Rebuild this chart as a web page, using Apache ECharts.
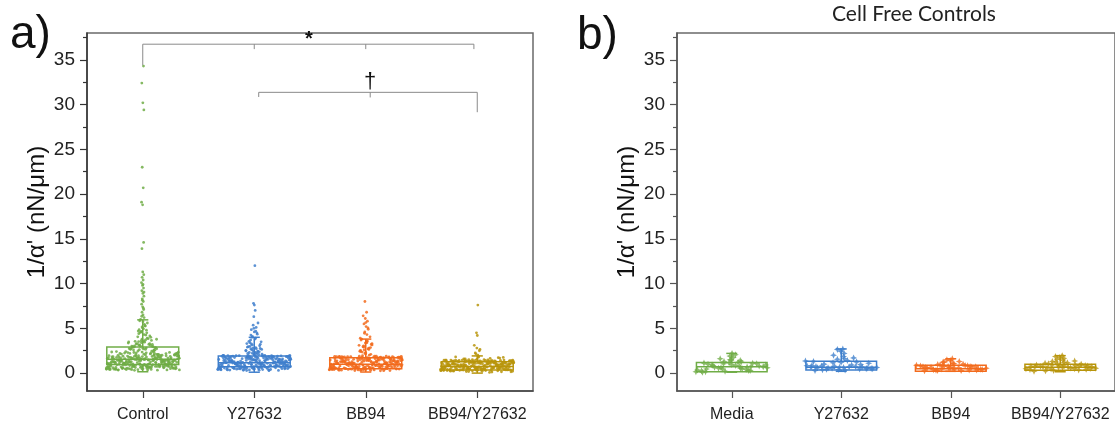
<!DOCTYPE html>
<html><head><meta charset="utf-8">
<script src="https://cdn.jsdelivr.net/npm/echarts@6/dist/echarts.min.js"></script>
<style>html,body{margin:0;padding:0;background:#fff}#c{width:1115px;height:426px}</style>
</head><body><div id="c"></div>
<script>
// ---------- DATA ----------
const catsA = ['Control', 'Y27632', 'BB94', 'BB94/Y27632'];
const catsB = ['Media', 'Y27632', 'BB94', 'BB94/Y27632'];
const yTickLabels = [0, 5, 10, 15, 20, 25, 30, 35];
const yMinorTicks = [2.5, 7.5, 12.5, 17.5, 22.5, 27.5, 32.5, 37.5];
const panelTitleB = 'Cell Free Controls';
const yName = "1/\u03b1' (nN/\u03bcm)";

// box stats: [lower whisker, Q1, median, Q3, upper whisker]
const boxControl = [0.15, 0.95, 1.55, 2.92, 5.95];
const boxY27632 = [0.1, 0.7, 1.15, 1.92, 4.0];
const boxBB94 = [0.12, 0.5, 1.0, 1.72, 3.8];
const boxBB94Y = [0.0, 0.35, 0.75, 1.26, 1.92];
const boxMedia_cf = [0.1, 0.15, 0.7, 1.18, 2.2];
const boxY27632_cf = [0.2, 0.35, 0.65, 1.32, 2.7];
const boxBB94_cf = [0.2, 0.22, 0.5, 0.88, 1.6];
const boxBB94Y_cf = [0.15, 0.33, 0.65, 1.0, 1.95];

const ptsControl = [0.42,1.13,0.87,1.65,2.21,0.56,1.38,0.95,1.82,0.33,1.27,2.05,0.71,1.49,0.64,1.91,1.06,2.38,0.48,1.57,0.83,1.22,1.74,0.39,2.12,1.01,0.68,1.43,1.96,0.77,1.15,2.29,0.52,1.61,0.92,1.34,1.87,0.45,2.44,1.09,0.74,1.52,0.61,1.78,1.19,2.16,0.36,1.41,0.98,1.69,0.58,2.01,1.25,0.81,1.55,0.44,1.84,1.03,2.33,0.66,1.31,0.89,1.72,1.17,2.09,0.51,1.46,0.79,1.99,1.36,0.62,1.63,0.94,2.24,1.11,0.47,1.58,0.86,1.29,1.93,0.69,1.47,2.18,0.38,1.07,1.76,0.55,1.33,0.97,2.41,1.21,0.73,1.67,0.41,1.88,1.14,0.63,1.51,2.07,0.84,1.39,0.54,1.81,1.02,2.27,0.76,1.44,0.91,1.71,0.49,1.23,1.97,0.67,1.59,1.05,2.13,0.35,1.37,0.88,1.64,1.18,0.59,2.03,1.42,0.78,1.53,0.46,1.86,1.08,2.31,0.72,1.28,0.96,1.75,0.53,1.48,2.19,0.85,1.16,0.43,1.62,1.35,0.99,2.11,0.65,1.54,0.82,1.92,1.26,0.57,1.68,1.04,2.36,0.75,1.45,0.93,1.79,0.37,1.32,2.06,0.7,1.56,1.12,0.5,1.85,1.24,0.8,1.66,2.22,0.6,1.4,1.0,1.73,0.4,1.2,1.9,
 2.55,2.7,2.9,3.1,2.62,3.35,2.8,3.55,2.95,3.8,2.68,3.2,4.05,2.85,3.45,2.58,3.65,3.0,2.75,3.9,3.25,2.6,3.5,2.88,4.15,3.15,2.72,3.7,3.05,2.98,3.4,2.66,3.85,3.3,2.82,3.6,2.92,4.0,3.12,3.48,
 4.3,4.55,4.8,5.05,4.4,5.3,4.65,5.6,4.95,5.85,4.25,5.15,4.7,5.45,6.0,4.5,5.75,4.85,5.25,4.6,
 6.2,6.5,6.8,7.1,7.4,7.7,8.0,8.3,8.6,8.9,9.2,9.5,9.8,10.1,10.4,10.7,11.0,11.3,6.35,7.25,8.15,9.05,9.9,
 13.9,14.6,18.8,19.1,20.7,23.0,29.4,30.2,32.4,34.3,
 0.31,0.58,0.83,1.08,1.33,1.58,1.83,2.08,0.46,0.71,0.96,1.21,1.46,1.71,1.96,2.21,0.39,0.64,0.89,1.14,1.39,1.64,1.89,2.14,0.52,0.77,1.02,1.27,1.52,1.77,2.02,2.27,0.34,0.6,0.86,1.11,1.37,1.62,1.87,2.35,0.44,0.69,0.94,1.19,1.44,1.69,1.94,2.47,0.5,0.75,1.0,1.25,1.5,1.75,2.0,2.3,0.36,0.62,0.88,1.13,1.38,1.63,1.88,2.2,0.48,0.73,0.98,1.23,1.48,1.73,1.98,2.4,
 2.52,2.78,3.02,3.28,3.52,3.78,2.64,2.94,3.22,3.62];
const ptsY27632 = [0.35,1.12,0.78,1.54,1.91,0.52,1.27,0.96,1.68,0.28,1.05,1.83,0.66,1.39,0.59,1.75,0.91,1.97,0.44,1.46,0.73,1.18,1.62,0.31,1.88,0.99,0.62,1.33,1.79,0.7,1.09,1.95,0.48,1.51,0.85,1.24,1.71,0.4,1.93,1.02,0.67,1.43,0.56,1.65,1.15,1.86,0.33,1.3,0.88,1.58,0.53,1.8,1.2,0.76,1.48,0.42,1.73,0.97,1.99,0.6,1.26,0.82,1.6,1.1,1.84,0.47,1.36,0.72,1.77,1.22,0.58,1.52,0.89,1.94,1.04,0.45,1.44,0.8,1.19,1.7,0.64,1.37,1.9,0.36,0.98,1.63,0.51,1.25,0.9,1.96,1.14,0.69,1.55,0.39,1.74,1.07,0.6,1.41,1.85,0.79,1.29,0.5,1.67,0.94,1.98,0.71,1.35,0.86,1.59,0.46,1.16,1.82,0.63,1.47,1.0,1.89,0.3,1.28,0.83,1.53,1.11,0.55,1.78,1.32,0.74,1.42,0.43,1.69,1.03,1.92,0.68,1.21,0.92,1.61,0.5,1.38,1.87,0.81,1.08,0.41,1.5,1.23,0.93,1.81,0.61,1.45,0.77,1.72,1.17,0.54,1.57,0.95,1.97,0.72,1.34,0.87,1.66,0.34,1.2,1.76,0.65,1.4,1.06,0.49,
 2.05,2.2,2.4,2.6,2.12,2.85,2.3,3.05,2.5,3.3,2.18,2.7,3.5,2.35,2.95,2.08,3.15,2.55,2.25,3.4,2.75,2.15,2.9,2.45,3.25,2.65,2.02,3.55,2.38,2.8,
 3.7,3.9,4.1,4.35,4.6,4.85,5.1,5.35,5.6,3.8,4.0,4.5,5.0,4.25,4.7,
 6.3,7.0,7.6,7.8,12.0,
 0.29,0.54,0.79,1.04,1.29,1.54,1.79,0.41,0.66,0.91,1.16,1.41,1.66,1.91,0.37,0.62,0.87,1.12,1.37,1.62,1.87,0.49,0.74,0.99,1.24,1.49,1.74,1.99,0.32,0.57,0.82,1.07,1.32,1.57,1.82,0.45,0.7,0.95,1.2,1.45,1.7,1.95,0.38,0.63,0.88,1.13,1.38,1.63,1.88,0.5,0.75,1.0,1.25,1.5,1.75,2.22,2.48,2.72,2.98,3.22];
const ptsBB94 = [0.32,1.05,0.74,1.46,1.82,0.49,1.2,0.9,1.6,0.26,0.98,1.75,0.62,1.31,0.55,1.67,0.86,1.88,0.41,1.38,0.69,1.11,1.53,0.29,1.79,0.93,0.58,1.25,1.7,0.66,1.02,1.85,0.45,1.43,0.8,1.17,1.63,0.37,1.9,0.96,0.63,1.35,0.52,1.57,1.08,1.77,0.31,1.23,0.83,1.5,0.5,1.72,1.13,0.71,1.4,0.39,1.65,0.91,1.87,0.57,1.19,0.77,1.52,1.04,1.76,0.44,1.29,0.68,1.69,1.15,0.54,1.45,0.84,1.83,0.97,0.42,1.37,0.75,1.12,1.62,0.6,1.3,1.8,0.34,0.92,1.55,0.48,1.18,0.85,1.86,1.07,0.65,1.47,0.36,1.66,1.01,0.56,1.33,1.78,0.73,1.22,0.47,1.59,0.88,1.89,0.67,1.27,0.81,1.51,0.43,1.09,1.74,0.59,1.39,0.95,1.81,0.28,1.21,0.78,1.44,1.05,0.51,1.71,1.26,0.7,1.34,0.4,1.61,0.97,1.84,0.64,1.14,0.87,1.54,0.46,1.3,1.78,0.76,1.01,0.38,1.42,1.16,0.89,1.73,0.57,1.36,0.72,1.64,1.1,0.5,1.49,0.9,1.87,0.68,1.27,0.82,1.58,0.33,1.13,1.68,0.61,1.32,
 1.95,2.1,2.3,2.55,2.8,3.05,3.3,3.55,3.8,4.05,2.2,2.45,2.7,2.95,3.2,3.45,3.7,2.0,2.6,3.1,3.6,2.35,2.85,3.35,3.9,
 4.3,4.6,4.9,5.2,5.5,5.8,6.1,6.4,6.8,4.45,5.05,5.65,8.0,
 0.27,0.52,0.77,1.02,1.27,1.52,1.77,0.39,0.64,0.89,1.14,1.39,1.64,1.89,0.35,0.6,0.85,1.1,1.35,1.6,1.85,0.47,0.72,0.97,1.22,1.47,1.72,0.3,0.55,0.8,1.05,1.3,1.55,1.8,0.43,0.68,0.93,1.18,1.43,1.68,0.37,0.62,0.87,1.12,1.37,1.62,1.83,0.49,0.74,0.99,1.24,1.49,1.74,2.15,2.4,2.65,2.9,3.15,3.4];
const ptsBB94Y = [0.22,0.85,0.58,1.16,1.42,0.38,0.97,0.71,1.29,0.12,0.79,1.37,0.49,1.05,0.43,1.33,0.68,1.47,0.31,1.1,0.55,0.89,1.22,0.18,1.4,0.74,0.46,1.0,1.35,0.52,0.82,1.45,0.35,1.14,0.63,0.94,1.3,0.27,1.5,0.77,0.5,1.08,0.41,1.25,0.87,1.39,0.2,0.99,0.66,1.2,0.39,1.36,0.91,0.57,1.12,0.3,1.31,0.73,1.44,0.45,0.95,0.61,1.21,0.83,1.38,0.34,1.03,0.54,1.34,0.92,0.42,1.15,0.67,1.43,0.78,0.33,1.09,0.6,0.9,1.28,0.48,1.04,1.41,0.25,0.74,1.24,0.37,0.94,0.68,1.46,0.86,0.51,1.17,0.28,1.32,0.81,0.44,1.06,1.4,0.58,0.98,0.36,1.26,0.7,1.49,0.53,1.01,0.64,1.19,0.32,0.87,1.37,0.47,1.11,0.76,1.42,0.15,0.96,0.62,1.13,0.84,0.4,1.35,1.0,0.55,1.07,0.3,1.27,0.77,1.45,0.5,0.91,0.69,1.22,0.35,1.03,1.39,0.6,0.8,0.29,1.13,0.93,0.71,1.33,0.45,1.08,0.57,1.3,0.88,0.38,1.18,0.72,1.44,0.54,1.0,0.65,1.23,0.24,0.9,1.31,0.47,1.05,1.6,1.72,1.55,1.8,1.65,
 1.5,1.75,2.0,2.25,2.5,2.8,3.1,1.85,2.15,2.65,4.2,4.5,7.6,
 0.17,0.42,0.67,0.92,1.17,1.42,0.29,0.54,0.79,1.04,1.29,0.23,0.48,0.73,0.98,1.23,1.48,0.35,0.6,0.85,1.1,1.35,0.2,0.45,0.7,0.95,1.2,1.45,0.32,0.57,0.82,1.07,1.32,0.26,0.51,0.76,1.01,1.26,0.38,0.63,0.88,1.13,1.38,0.14,0.44,0.69,0.94,1.19,1.44,0.08,1.58,1.68,1.76];
const ptsMedia_cf = [0.15,0.3,0.45,0.6,0.75,0.9,1.05,1.15,0.25,0.4,0.55,0.7,0.85,1.0,1.1,0.2,0.35,0.5,0.65,0.8,0.95,1.12,0.3,0.6,0.9,1.2,1.3,1.4,1.5,1.6,1.75,1.9,2.05,2.2,0.45,0.75,1.05,0.15,0.55,0.85,1.25,1.45,0.1,0.68];
const ptsY27632_cf = [0.3,0.45,0.55,0.62,0.7,0.78,0.5,0.4,0.65,0.72,0.58,0.48,0.35,0.6,0.68,0.75,0.82,0.9,1.0,1.1,1.2,1.3,1.4,1.55,1.7,1.85,2.0,2.2,2.45,2.65,2.7,0.42,0.52,0.63,0.73,0.95,1.15,1.35,1.6,0.38,0.57,0.66,0.85,1.25];
const ptsBB94_cf = [0.25,0.35,0.45,0.55,0.6,0.65,0.7,0.75,0.8,0.85,0.3,0.4,0.5,0.58,0.68,0.78,0.88,0.28,0.38,0.48,0.62,0.72,0.82,0.9,1.0,1.1,1.2,1.3,1.4,1.5,1.6,0.33,0.43,0.53,0.63,0.73,0.83,0.95,1.05,1.25,0.36,0.56];
const ptsBB94Y_cf = [0.2,0.35,0.45,0.55,0.65,0.75,0.85,0.95,0.4,0.5,0.6,0.7,0.8,0.9,1.0,0.3,0.48,0.58,0.68,0.78,0.88,1.05,1.15,1.25,1.35,1.45,1.55,1.65,1.75,1.85,1.95,0.25,0.52,0.62,0.72,0.82,0.92,1.1,1.2,1.3,0.42,0.66,0.76,0.86];

// significance annotations (category position, value)
const bracketStar = [[[1,34.4],[1,36.75],[3.97,36.75],[3.97,36.2]], [[2,36.75],[2,36.2]], [[3,36.75],[3,36.2]]];
const bracketDagger = [[[2.04,30.85],[2.04,31.37],[4.0,31.37],[4.0,29.15]], [[3.04,31.37],[3.04,30.8]]];
const sigMarks = [['*', 2.49, 37.3], ['\u2020', 3.04, 32.5]];

// ---------- STYLE ----------
const colors = ['#70ad47', '#3f7fcc', '#f26b1d', '#b8950c'];
const FONT = "'Liberation Sans', Arial, sans-serif";
const jitterProfiles = [
  [[2.5,0.33],[4.2,0.13],[6.05,0.045],[Infinity,0.012]],
  [[2.0,0.33],[3.6,0.075],[5.7,0.035],[Infinity,0.01]],
  [[1.9,0.33],[4.1,0.06],[7,0.025],[Infinity,0.01]],
  [[1.47,0.33],[1.81,0.25],[3.2,0.03],[Infinity,0.01]]
];
const jitterProfilesCF = [
  [[1.2,0.33],[1.7,0.12],[Infinity,0.04]],
  [[1.35,0.33],[2.0,0.12],[Infinity,0.04]],
  [[0.9,0.33],[1.3,0.12],[Infinity,0.04]],
  [[1.0,0.33],[1.5,0.14],[Infinity,0.05]]
];
function halfW(profile, v) { for (const [lim, w] of profile) if (v <= lim) return w; return 0.01; }
function jitterPts(vals, k, profile) {
  return vals.map((v, i) => {
    const f = ((i * 0.6180339887 + 0.137) % 1) * 2 - 1;
    return [k + f * halfW(profile, v), v];
  });
}

function boxSeries(stats, xAxisIndex, yAxisIndex) {
  return {
    type: 'custom', xAxisIndex, yAxisIndex, z: 2, silent: true,
    data: stats.map((s, i) => [i + 1, ...s]),
    renderItem(params, api) {
      const x = api.value(0);
      const v = [1,2,3,4,5].map(k => api.value(k));
      const col = colors[params.dataIndex];
      const w = api.size([0.645, 0])[0];
      const cap = api.size([0.1, 0])[0];
      const p = v.map(val => api.coord([x, val]));
      const cx = p[0][0];
      const st = { stroke: col, lineWidth: 1.5, fill: 'transparent' };
      const L = (x1,y1,x2,y2) => ({ type:'line', shape:{x1,y1,x2,y2}, style: st });
      return { type: 'group', children: [
        { type: 'rect', shape: { x: cx - w/2, y: p[3][1], width: w, height: p[1][1] - p[3][1] }, style: st },
        L(cx - w/2, p[2][1], cx + w/2, p[2][1]),
        L(cx, p[3][1], cx, p[4][1]),
        L(cx, p[1][1], cx, p[0][1]),
        L(cx - cap/2, p[4][1], cx + cap/2, p[4][1]),
        L(cx - cap/2, p[0][1], cx + cap/2, p[0][1])
      ]};
    }
  };
}

const scatterSeries = [];
[ptsControl, ptsY27632, ptsBB94, ptsBB94Y].forEach((vals, k) => {
  scatterSeries.push({ type: 'scatter', xAxisIndex: 2, yAxisIndex: 0, z: 3, silent: true,
    symbol: 'circle', symbolSize: 2.8, itemStyle: { color: colors[k], opacity: 0.85 },
    data: jitterPts(vals, k + 1, jitterProfiles[k]) });
});
[ptsMedia_cf, ptsY27632_cf, ptsBB94_cf, ptsBB94Y_cf].forEach((vals, k) => {
  scatterSeries.push({ type: 'scatter', xAxisIndex: 3, yAxisIndex: 1, z: 3, silent: true,
    symbol: 'path://M0,-5L1.5,-1.5L5,0L1.5,1.5L0,5L-1.5,1.5L-5,0L-1.5,-1.5Z', symbolSize: 7,
    itemStyle: { color: colors[k] },
    data: jitterPts(vals, k + 1, jitterProfilesCF[k]) });
});

const annotSeries = {
  type: 'custom', xAxisIndex: 2, yAxisIndex: 0, z: 4, silent: true, data: [0],
  renderItem(params, api) {
    const children = [];
    [...bracketStar, ...bracketDagger].forEach(poly => {
      children.push({ type: 'polyline', shape: { points: poly.map(pt => api.coord(pt)) },
        style: { stroke: '#8a8a8a', lineWidth: 1, fill: null } });
    });
    sigMarks.forEach(([t, x, y]) => {
      const c = api.coord([x, y]);
      children.push({ type: 'text', x: c[0], y: c[1],
        style: { text: t, fill: '#111', font: (t === '*' ? 'bold 20px ' : '22px ') + FONT, align: 'center', verticalAlign: 'middle' } });
    });
    return { type: 'group', children };
  }
};

function yAxisMain(gridIndex, lineColor) {
  return { type: 'value', gridIndex, min: -2, max: 38,
    name: yName, nameLocation: 'middle', nameGap: 38,
    nameTextStyle: { fontFamily: 'Liberation Sans', fontSize: 24, color: '#111' },
    axisLine: { show: true, onZero: false, lineStyle: { color: lineColor, width: 1.5 } },
    axisTick: { show: true, customValues: yTickLabels, length: 7, lineStyle: { color: lineColor, width: 1.2 } },
    axisLabel: { customValues: yTickLabels, fontFamily: 'Liberation Sans', fontSize: 19, color: '#222', margin: 12 },
    splitLine: { show: false } };
}
function yAxisMinor(gridIndex, lineColor) {
  return { type: 'value', gridIndex, min: -2, max: 38, position: 'left',
    axisLine: { show: false, onZero: false },
    axisTick: { show: true, customValues: yMinorTicks, length: 4, lineStyle: { color: lineColor, width: 1.2 } },
    axisLabel: { show: false }, splitLine: { show: false } };
}
function xCat(gridIndex, cats, lineColor) {
  return { type: 'category', gridIndex, data: cats, boundaryGap: true, position: 'bottom',
    axisLine: { show: true, onZero: false, lineStyle: { color: lineColor, width: 1.5 } },
    axisTick: { show: true, alignWithLabel: true, length: 7, lineStyle: { color: lineColor, width: 1.2 } },
    axisLabel: { fontFamily: 'Liberation Sans', fontSize: 16, color: '#222', margin: 16, interval: 0 },
    splitLine: { show: false } };
}

const chart = echarts.init(document.getElementById('c'), null, { renderer: 'canvas' });
chart.setOption({
  animation: false,
  backgroundColor: '#fff',
  grid: [
    { left: 87, top: 33, width: 446, height: 358, show: true, borderColor: '#6a6a6a', borderWidth: 1.5 },
    { left: 677, top: 33, width: 446, height: 358, show: true, borderColor: '#6a6a6a', borderWidth: 1.5 }
  ],
  xAxis: [
    xCat(0, catsA, '#444'),
    xCat(1, catsB, '#555'),
    { type: 'value', gridIndex: 0, min: 0.5, max: 4.5, show: false },
    { type: 'value', gridIndex: 1, min: 0.5, max: 4.5, show: false }
  ],
  yAxis: [ yAxisMain(0, '#333'), yAxisMain(1, '#555'), yAxisMinor(0, '#333'), yAxisMinor(1, '#555') ],
  graphic: [
    { type: 'text', x: 10, y: 35, style: { text: 'a)', font: "46px 'Liberation Sans', Arial, sans-serif", fill: '#111', verticalAlign: 'middle' } },
    { type: 'text', x: 577, y: 36, style: { text: 'b)', font: "46px 'Liberation Sans', Arial, sans-serif", fill: '#111', verticalAlign: 'middle' } },
    { type: 'text', x: 914, y: 14, style: { text: panelTitleB, font: '21px Lato, sans-serif', fill: '#222', align: 'center', verticalAlign: 'middle' } }
  ],
  series: [ boxSeries([boxControl, boxY27632, boxBB94, boxBB94Y], 2, 0),
            boxSeries([boxMedia_cf, boxY27632_cf, boxBB94_cf, boxBB94Y_cf], 3, 1),
            ...scatterSeries, annotSeries ]
});
</script></body></html>
